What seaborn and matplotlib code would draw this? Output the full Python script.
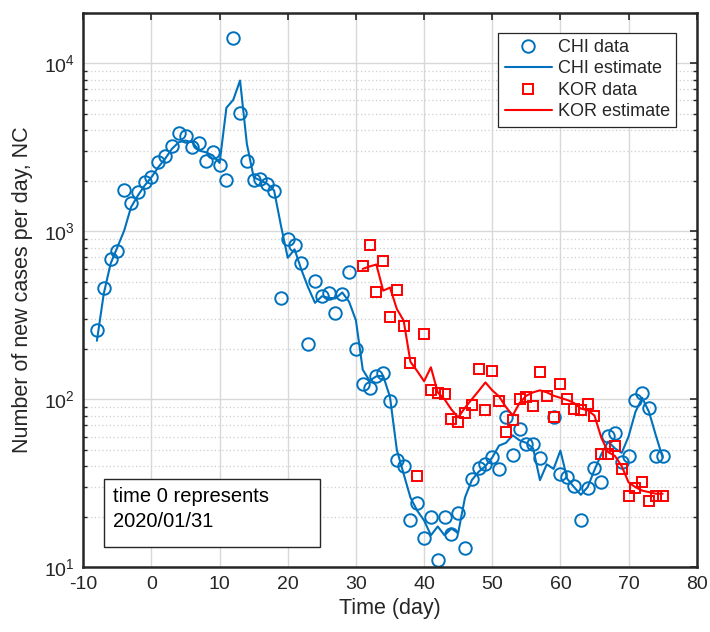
import numpy as np
import pandas as pd
import matplotlib
matplotlib.use("Agg")
import matplotlib.pyplot as plt
import seaborn as sns
from matplotlib.patches import Rectangle
from matplotlib.ticker import LogLocator, FixedLocator

# ---------------- data ----------------
chi_days = list(range(-8, 76))
chi_data = [260, 460, 685, 768, 1763, 1468, 1723, 1977, 2096, 2588,
            2823, 3224, 3868, 3713, 3162, 3373, 2636, 2978, 2483, 2005,
            14160, 5070, 2636, 2005, 2042, 1915, 1746, 399, 893, 826,
            645, 214, 509, 409, 427, 325, 424, 573, 200, 124,
            117, 138, 143, 98, 43.5, 39.9, 19, 24, 14.9, 19.8,
            11, 19.8, 15.8, 21, 13, 33.6, 39, 41.2, 45.6, 38.7,
            78, 46.9, 66.7, 54.3, 54, 44.8, np.nan, 78, 36, 34.6,
            30.6, 19, 29.7, 38.8, 32, 60.8, 62.8, 42.6, 45.8, 99,
            109, 89, 45.8, 45.8]
chi_est = [223, 424, 640, 803, 1009, 1390, 1629, 1871, 2096, 2404,
           2698, 3093, 3385, 3467, 3385, 3020, 2950, 2826, 2550, 5430,
           6050, 7890, 3311, 2096, 2005, 1915, 1746, 1080, 695, 780,
           590, 462, 375, 410, 402, 398, 432, 380, 295, 150,
           129, 137, 138, 103, 50, 36, 26, 21.7, 19, 15.5,
           17.5, 15.5, 17, 16, 26, 33, 37, 40, 45, 53,
           55, 61, 57, 55, 51, 33, 41, 38.5, 49.5, 33.6,
           30, 27, 30, 38, 47, 56, 51, 48, 60, 84,
           102, 84, 61, 45]

kor_days = list(range(31, 76))
kor_data = [617, 830, 433, 663, 308, 448, 272, 165, 35, 243,
            114, 109, 107, 76, 73.6, 83.4, 93, 152, 86.5, 147,
            98, 64, 75.4, 100, 103, 90.9, 146, 105, 78, 124,
            101, 88, 86.5, 94, 80, 47, 47, 53, 38.7, 26.7,
            29.7, 32, 24.9, 26.7, 26.7]
kor_est = [597, 617, 634, 443, 462, 345, 294, 167, 147, 128,
           155, 110, 100, 87, 78, 89, 100, 112, 126, 113,
           104, 90, 80, 95, 105, 110, 113, 110, 105, 102,
           99, 95, 88, 86, 80, 59, 48.5, 46, 40, 32,
           30, 28.6, 28, 27.4, 27.4]

x_ticks = [-10, 0, 10, 20, 30, 40, 50, 60, 70, 80]
legend_labels = ["CHI data", "CHI estimate", "KOR data", "KOR estimate"]
note_lines = ["time 0 represents", "2020/01/31"]

chi = pd.DataFrame({"day": chi_days, "data": chi_data, "est": chi_est})
kor = pd.DataFrame({"day": kor_days, "data": kor_data, "est": kor_est})

# ---------------- style ----------------
sns.set_style("white")
plt.rcParams["font.family"] = ["Liberation Sans", "DejaVu Sans"]
plt.rcParams["mathtext.fontset"] = "custom"
plt.rcParams["mathtext.rm"] = "Liberation Sans"
plt.rcParams["mathtext.it"] = "Liberation Sans:italic"

BLUE = "#0072BD"
RED = "#FF0000"
DARK = "#262626"

fig = plt.figure(figsize=(7.10, 6.32), dpi=100)
ax = fig.add_axes([0.1173, 0.1024, 0.864, 0.8776])

ax.set_yscale("log")
ax.set_axisbelow(True)

sns.lineplot(data=chi, x="day", y="data", ax=ax, marker="o", linestyle="",
             markersize=9, markerfacecolor="none", markeredgecolor=BLUE,
             markeredgewidth=1.4, color=BLUE, estimator=None,
             label=legend_labels[0])
sns.lineplot(data=chi, x="day", y="est", ax=ax, color=BLUE, linewidth=1.5,
             estimator=None, label=legend_labels[1])
sns.lineplot(data=kor, x="day", y="data", ax=ax, marker="s", linestyle="",
             markersize=7.5, markerfacecolor="none", markeredgecolor=RED,
             markeredgewidth=1.4, color=RED, estimator=None,
             label=legend_labels[2])
sns.lineplot(data=kor, x="day", y="est", ax=ax, color=RED, linewidth=1.5,
             estimator=None, label=legend_labels[3])

ax.set_xlim(-10, 80)
ax.set_ylim(10, 2e4)
ax.set_xticks(x_ticks)
ax.set_xticklabels([str(t) for t in x_ticks])
ax.yaxis.set_major_locator(FixedLocator([10, 100, 1000, 10000]))
ax.yaxis.set_minor_locator(LogLocator(base=10, subs=np.arange(2, 10)))

ax.grid(True, which="major", axis="both", color="#d8d8d8", linewidth=1.0,
        linestyle="-")
ax.grid(True, which="minor", axis="y", color="#cfcfcf", linewidth=0.9,
        linestyle=(0, (1, 2)))

ax.tick_params(axis="both", which="major", direction="in", length=5,
               width=1.2, top=True, right=True, labelsize=14,
               colors=DARK, pad=6)
ax.tick_params(axis="y", which="minor", direction="in", length=2.8,
               width=1.0, right=True, left=True)
ax.tick_params(axis="x", which="minor", bottom=False, top=False)

for s in ax.spines.values():
    s.set_linewidth(1.8)
    s.set_color(DARK)

ax.set_xlabel("Time (day)", fontsize=15.5, color=DARK, labelpad=4)
ax.set_ylabel("Number of new cases per day, NC", fontsize=15.5, color=DARK,
              labelpad=8)

leg = ax.legend(loc="upper right", bbox_to_anchor=(0.967, 0.964),
                fontsize=13, frameon=True, fancybox=False, framealpha=1,
                edgecolor=DARK, handlelength=2.6, handletextpad=0.35,
                labelspacing=0.25, borderpad=0.35, borderaxespad=0)
leg.get_frame().set_linewidth(0.9)

# note box
ax.add_patch(Rectangle((0.034, 0.037), 0.352, 0.123, transform=ax.transAxes,
                       fill=True, facecolor="white", edgecolor=DARK,
                       linewidth=1.0, zorder=5))
ax.text(0.048, 0.127, note_lines[0], transform=ax.transAxes, fontsize=14.5,
        color="black", va="center", ha="left", zorder=6)
ax.text(0.048, 0.082, note_lines[1], transform=ax.transAxes, fontsize=14.5,
        color="black", va="center", ha="left", zorder=6)

fig.savefig("out.png", dpi=100)
